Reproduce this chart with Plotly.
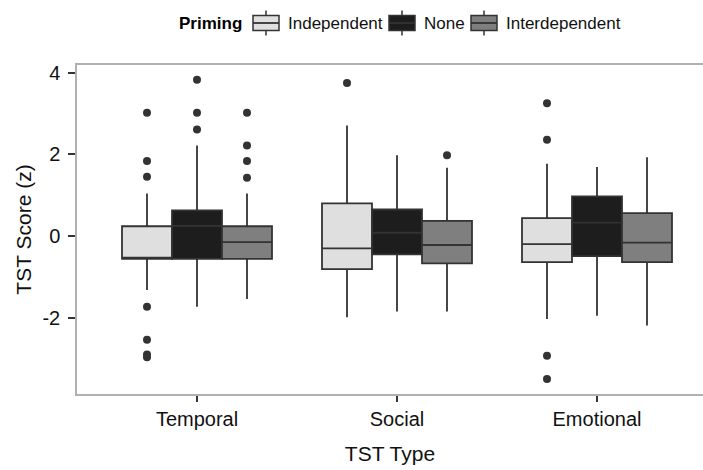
import plotly.graph_objects as go

# TST types on the x axis and priming groups within each type
tst_types = ["Temporal", "Social", "Emotional"]
priming = ["Independent", "None", "Interdependent"]
y_ticks = [-2, 0, 2, 4]
y_tick_labels = ["-2", "0", "2", "4"]

# Box statistics per priming group, one value per TST type
q1 = {
    "Independent": [-0.56, -0.81, -0.64],
    "None": [-0.56, -0.45, -0.49],
    "Interdependent": [-0.56, -0.67, -0.64],
}
median = {
    "Independent": [-0.53, -0.30, -0.20],
    "None": [0.25, 0.08, 0.33],
    "Interdependent": [-0.15, -0.22, -0.16],
}
q3 = {
    "Independent": [0.24, 0.80, 0.44],
    "None": [0.63, 0.65, 0.97],
    "Interdependent": [0.24, 0.37, 0.56],
}
lower_whisker = {
    "Independent": [-1.32, -1.99, -2.03],
    "None": [-1.73, -1.85, -1.95],
    "Interdependent": [-1.54, -1.85, -2.19],
}
upper_whisker = {
    "Independent": [1.04, 2.71, 1.77],
    "None": [2.22, 1.98, 1.69],
    "Interdependent": [1.04, 1.67, 1.93],
}
outliers = {
    "Independent": [
        [3.02, 1.84, 1.45, -1.73, -2.54, -2.90, -2.97],
        [3.75],
        [3.25, 2.36, -2.93, -3.50],
    ],
    "None": [
        [3.83, 3.02, 2.61],
        [],
        [],
    ],
    "Interdependent": [
        [3.02, 2.22, 1.84, 1.43],
        [1.98],
        [],
    ],
}

fills = {"Independent": "#dfdfdf", "None": "#1d1d1d", "Interdependent": "#7f7f7f"}
edge = "#333333"
dodge = {"Independent": -0.25, "None": 0.0, "Interdependent": 0.25}
box_w = 0.25
font = "Liberation Sans, Arial, sans-serif"

W, H = 703, 470
M = dict(l=77, r=0, t=65, b=76)
plot_w = W - M["l"] - M["r"]
plot_h = H - M["t"] - M["b"]


def px_x(px):
    """Pixel column -> paper x."""
    return (px - M["l"]) / plot_w


def px_y(py):
    """Pixel row (from top) -> paper y."""
    return (H - M["b"] - py) / plot_h


fig = go.Figure()
positions = list(range(1, len(tst_types) + 1))

for g in priming:
    xs = [p + dodge[g] for p in positions]
    fig.add_trace(go.Box(
        name=g,
        x=xs,
        q1=q1[g], median=median[g], q3=q3[g],
        lowerfence=lower_whisker[g], upperfence=upper_whisker[g],
        width=box_w,
        whiskerwidth=0,
        boxpoints=False,
        fillcolor=fills[g],
        line=dict(color=edge, width=1.8),
        showlegend=False,
        hoverinfo="skip",
    ))
    ox, oy = [], []
    for x, vals in zip(xs, outliers[g]):
        ox += [x] * len(vals)
        oy += vals
    fig.add_trace(go.Scatter(
        x=ox, y=oy, mode="markers",
        marker=dict(color=edge, size=8),
        showlegend=False, hoverinfo="skip",
    ))

# Legend row drawn as key glyphs plus labels
legend_cy = 23
key_w, key_box_h, key_whisk_h = 26, 15, 25
title_left = 177
key_lefts = {"Independent": 253, "None": 389, "Interdependent": 471}
label_gap = 7

shapes = []
annotations = [dict(
    x=px_x(title_left), y=px_y(legend_cy), xref="paper", yref="paper",
    xanchor="left", yanchor="middle", showarrow=False,
    text="<b>Priming</b>", font=dict(family=font, size=17, color="#000"),
)]
for g in priming:
    x0 = key_lefts[g]
    xc = x0 + key_w / 2
    shapes.append(dict(
        type="line", xref="paper", yref="paper",
        x0=px_x(xc), x1=px_x(xc),
        y0=px_y(legend_cy - key_whisk_h / 2), y1=px_y(legend_cy + key_whisk_h / 2),
        line=dict(color=edge, width=1.5),
    ))
    shapes.append(dict(
        type="rect", xref="paper", yref="paper",
        x0=px_x(x0), x1=px_x(x0 + key_w),
        y0=px_y(legend_cy - key_box_h / 2), y1=px_y(legend_cy + key_box_h / 2),
        fillcolor=fills[g], line=dict(color=edge, width=1.5),
    ))
    shapes.append(dict(
        type="line", xref="paper", yref="paper",
        x0=px_x(x0), x1=px_x(x0 + key_w),
        y0=px_y(legend_cy), y1=px_y(legend_cy),
        line=dict(color=edge, width=1.8),
    ))
    annotations.append(dict(
        x=px_x(x0 + key_w + label_gap), y=px_y(legend_cy),
        xref="paper", yref="paper",
        xanchor="left", yanchor="middle", showarrow=False,
        text=g, font=dict(family=font, size=17, color="#111"),
    ))

fig.update_layout(
    width=W, height=H,
    margin=M,
    paper_bgcolor="white", plot_bgcolor="white",
    font=dict(family=font, color="#111111"),
    showlegend=False,
    shapes=shapes,
    annotations=annotations,
)

fig.update_xaxes(
    range=[0.4, 3.53],
    tickvals=positions, ticktext=tst_types,
    ticks="outside", ticklen=6, tickcolor="#333", tickwidth=1.5,
    showline=True, linecolor="#b0b0b0", linewidth=1.5, mirror=True,
    showgrid=False, zeroline=False, automargin=False,
    tickfont=dict(size=20, color="#111"),
    title=dict(text="TST Type", font=dict(size=21, color="#111"), standoff=18),
)
fig.update_yaxes(
    range=[-3.87, 4.19],
    tickvals=y_ticks, ticktext=y_tick_labels,
    ticks="outside", ticklen=7, tickcolor="#333", tickwidth=1.5,
    ticklabelstandoff=4,
    showline=True, linecolor="#b0b0b0", linewidth=1.5,
    showgrid=False, zeroline=False, automargin=False,
    tickfont=dict(size=20, color="#111"),
    title=dict(text="TST Score (z)", font=dict(size=21, color="#111"), standoff=5),
)

fig.write_html("out.html")
